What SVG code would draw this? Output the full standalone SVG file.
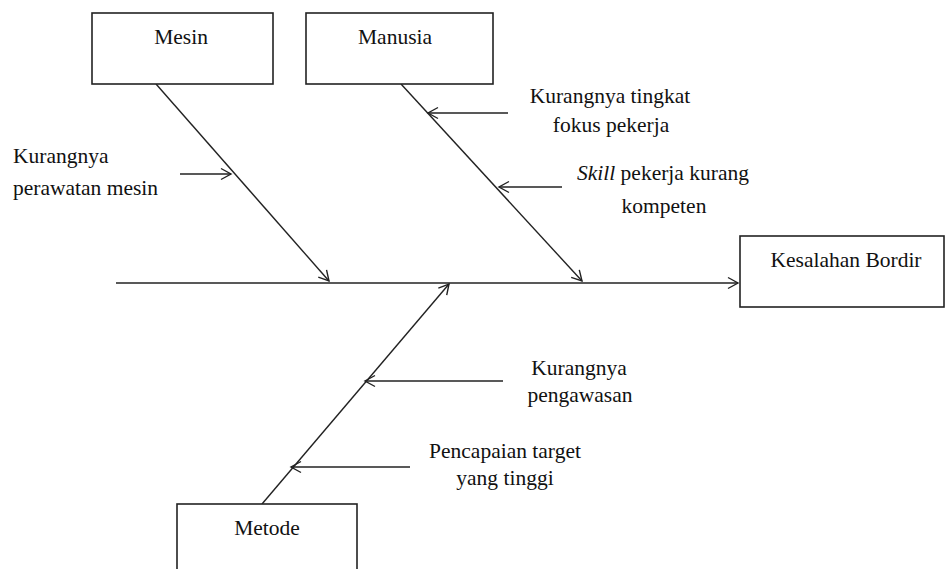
<svg xmlns="http://www.w3.org/2000/svg" width="950" height="569" viewBox="0 0 950 569">
<style>
  text { font-family: 'Liberation Serif', 'DejaVu Serif', serif; font-size: 21.5px; fill: #111; }
  .box { fill: #fff; stroke: #222; stroke-width: 1.6; }
  .ln { stroke: #222; stroke-width: 1.4; fill: none; }
  .mid { text-anchor: middle; }
</style>
<defs>
  <marker id="ah" markerUnits="userSpaceOnUse" markerWidth="14" markerHeight="14" viewBox="0 0 14 14" refX="12" refY="7" orient="auto">
    <path d="M2,1.5 L12,7 L2,12.5" fill="none" stroke="#222" stroke-width="1.4"/>
  </marker>
</defs>
<rect width="950" height="569" fill="#fff"/>
<g id="connectors">
  <line class="ln" x1="116" y1="283" x2="738" y2="283" marker-end="url(#ah)"/>
  <line class="ln" x1="156" y1="84" x2="329" y2="281" marker-end="url(#ah)"/>
  <line class="ln" x1="401" y1="84" x2="582" y2="281" marker-end="url(#ah)"/>
  <line class="ln" x1="262" y1="504" x2="449" y2="284" marker-end="url(#ah)"/>
  <line class="ln" x1="180" y1="174" x2="231" y2="174" marker-end="url(#ah)"/>
  <line class="ln" x1="508" y1="113" x2="428" y2="113" marker-end="url(#ah)"/>
  <line class="ln" x1="562" y1="187" x2="499" y2="187" marker-end="url(#ah)"/>
  <line class="ln" x1="503" y1="381" x2="365" y2="381" marker-end="url(#ah)"/>
  <line class="ln" x1="410" y1="467" x2="291" y2="467" marker-end="url(#ah)"/>
</g>
<g id="mesin">
  <rect class="box" x="92" y="13" width="181" height="71"/>
  <text class="mid" x="181" y="44">Mesin</text>
</g>
<g id="manusia">
  <rect class="box" x="306" y="13" width="187" height="71"/>
  <text class="mid" x="395" y="44">Manusia</text>
</g>
<g id="kesalahan-bordir">
  <rect class="box" x="740" y="236" width="204" height="71"/>
  <text class="mid" x="846" y="267">Kesalahan Bordir</text>
</g>
<g id="metode">
  <rect class="box" x="177" y="504" width="180" height="80"/>
  <text class="mid" x="267" y="535">Metode</text>
</g>
<g id="cause-perawatan">
  <text x="13" y="163">Kurangnya</text>
  <text x="13" y="195">perawatan mesin</text>
</g>
<g id="cause-fokus">
  <text class="mid" x="610" y="103">Kurangnya tingkat</text>
  <text class="mid" x="611" y="132">fokus pekerja</text>
</g>
<g id="cause-skill">
  <text x="577" y="180"><tspan font-style="italic">Skill</tspan> pekerja kurang</text>
  <text class="mid" x="664" y="213">kompeten</text>
</g>
<g id="cause-pengawasan">
  <text class="mid" x="579" y="375">Kurangnya</text>
  <text class="mid" x="580" y="402">pengawasan</text>
</g>
<g id="cause-target">
  <text class="mid" x="505" y="458">Pencapaian target</text>
  <text class="mid" x="505" y="485">yang tinggi</text>
</g>
</svg>
